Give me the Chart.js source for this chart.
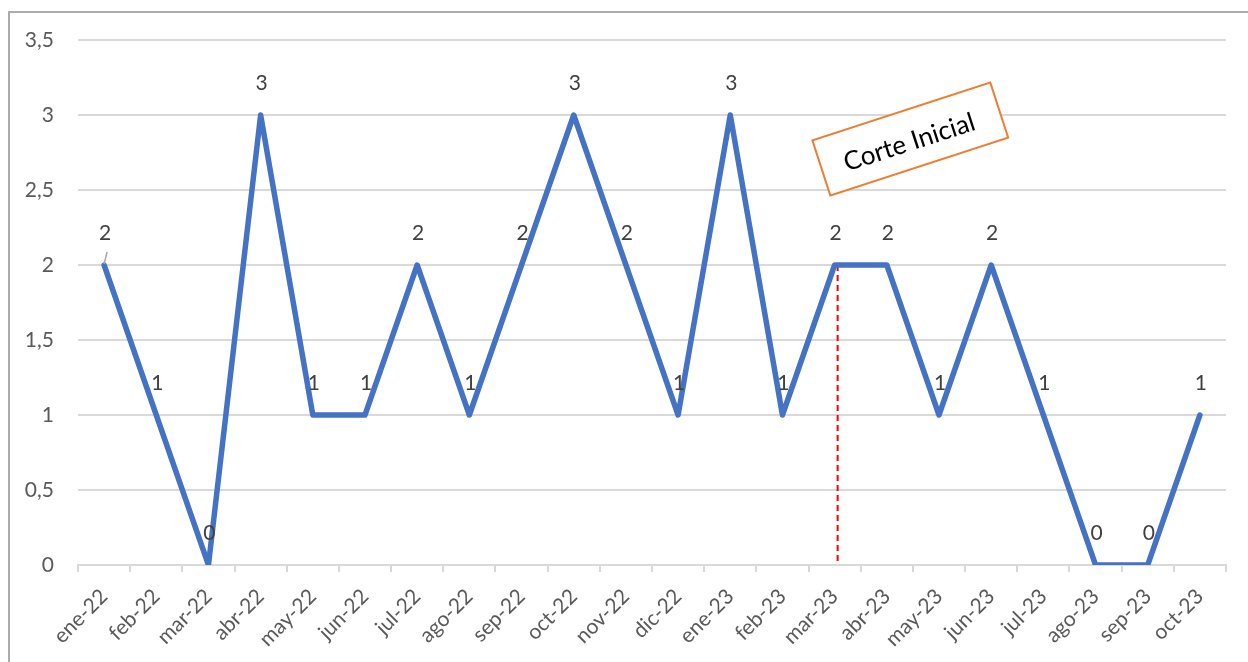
<!DOCTYPE html>
<html>
<head>
<meta charset="utf-8">
<script src="https://cdn.jsdelivr.net/npm/chart.js@4.4.0/dist/chart.umd.min.js"></script>
<style>
  html, body { margin: 0; padding: 0; background: #fff; overflow: hidden; }
  #wrap { position: relative; width: 1248px; height: 662px; }
  #frame {
    position: absolute; left: 8px; top: 11px;
    width: 1300px; height: 700px;
    border: 2px solid #ABABAB; box-sizing: border-box;
    pointer-events: none;
  }
</style>
</head>
<body>
<div id="wrap">
  <canvas id="chart" width="1248" height="662"></canvas>
  <div id="frame"></div>
</div>
<script>
// monthly counts
const months = [
  "ene-22", "feb-22", "mar-22", "abr-22", "may-22", "jun-22", "jul-22", "ago-22",
  "sep-22", "oct-22", "nov-22", "dic-22", "ene-23", "feb-23", "mar-23", "abr-23",
  "may-23", "jun-23", "jul-23", "ago-23", "sep-23", "oct-23"
];
const counts = [2, 1, 0, 3, 1, 1, 2, 1, 2, 3, 2, 1, 3, 1, 2, 2, 1, 2, 1, 0, 0, 1];

const yMin = 0;
const yMax = 3.5;
const yStep = 0.5;

// cut-off marker
const cutoffMonth = "mar-23";
const noteText = "Corte Inicial";
const noteAt = { x: 15.45, y: 2.84 };

const FONT = "Lato";

// value labels above every point
const pointLabels = {
  id: "pointLabels",
  afterDatasetsDraw(chart) {
    const ctx = chart.ctx;
    const pts = chart.getDatasetMeta(0).data;
    ctx.save();
    ctx.font = "21px " + FONT;
    ctx.fillStyle = "#404040";
    ctx.textAlign = "center";
    ctx.textBaseline = "middle";
    pts.forEach((p, i) => {
      ctx.fillText(String(counts[i]), p.x + 1, p.y - 32);
    });
    // little leader line on the first label
    const p0 = pts[0];
    ctx.strokeStyle = "#A6A6A6";
    ctx.lineWidth = 1.5;
    ctx.beginPath();
    ctx.moveTo(p0.x + 3, p0.y - 13);
    ctx.lineTo(p0.x, p0.y - 1);
    ctx.stroke();
    ctx.restore();
  }
};

// dashed red line at the cut-off month
const cutoffLine = {
  id: "cutoffLine",
  beforeDatasetsDraw(chart) {
    const { ctx, scales } = chart;
    const i = months.indexOf(cutoffMonth);
    const x = scales.x.getPixelForValue(i) + 3;
    ctx.save();
    ctx.strokeStyle = "#FF0000";
    ctx.lineWidth = 2;
    ctx.setLineDash([6, 4]);
    ctx.beginPath();
    ctx.moveTo(x, scales.y.getPixelForValue(counts[i]));
    ctx.lineTo(x, scales.y.getPixelForValue(0));
    ctx.stroke();
    ctx.restore();
  }
};

// tilted text box
const noteBox = {
  id: "noteBox",
  afterDraw(chart) {
    const { ctx, scales } = chart;
    const cx = scales.x.getPixelForValue(noteAt.x);
    const cy = scales.y.getPixelForValue(noteAt.y);
    const w = 187, h = 58;
    ctx.save();
    ctx.translate(cx, cy);
    ctx.rotate(-18 * Math.PI / 180);
    ctx.fillStyle = "#fff";
    ctx.fillRect(-w / 2, -h / 2, w, h);
    ctx.strokeStyle = "#ED7D31";
    ctx.lineWidth = 2;
    ctx.strokeRect(-w / 2, -h / 2, w, h);
    ctx.fillStyle = "#000";
    ctx.font = "26px " + FONT;
    ctx.textAlign = "center";
    ctx.textBaseline = "middle";
    ctx.fillText(noteText, -2, 3);
    ctx.restore();
  }
};

new Chart(document.getElementById("chart"), {
  type: "line",
  data: {
    labels: months,
    datasets: [{
      data: counts,
      borderColor: "#4472C4",
      borderWidth: 5.5,
      pointRadius: 0,
      tension: 0,
      borderJoinStyle: "round",
      borderCapStyle: "round"
    }]
  },
  options: {
    responsive: false,
    animation: false,
    layout: { padding: { top: 40, right: 22, left: 0, bottom: 0 } },
    plugins: {
      legend: { display: false },
      tooltip: { enabled: false }
    },
    scales: {
      x: {
        offset: true,
        grid: {
          offset: true,
          drawOnChartArea: false,
          drawTicks: true,
          tickLength: 7,
          color: "#D9D9D9",
          lineWidth: 2
        },
        border: { display: true, color: "#D9D9D9", width: 2 },
        ticks: {
          autoSkip: false,
          minRotation: 45,
          maxRotation: 45,
          color: "#595959",
          padding: 12,
          font: { family: FONT, size: 21 }
        },
        afterFit(s) { s.height = 97; }
      },
      y: {
        min: yMin,
        max: yMax,
        ticks: {
          stepSize: yStep,
          color: "#595959",
          padding: 24,
          font: { family: FONT, size: 21 },
          callback: v => String(v).replace(".", ",")
        },
        grid: { color: "#D9D9D9", lineWidth: 2, drawTicks: false },
        border: { display: false },
        afterFit(s) { s.width = 78; }
      }
    }
  },
  plugins: [cutoffLine, pointLabels, noteBox]
});
</script>
</body>
</html>
